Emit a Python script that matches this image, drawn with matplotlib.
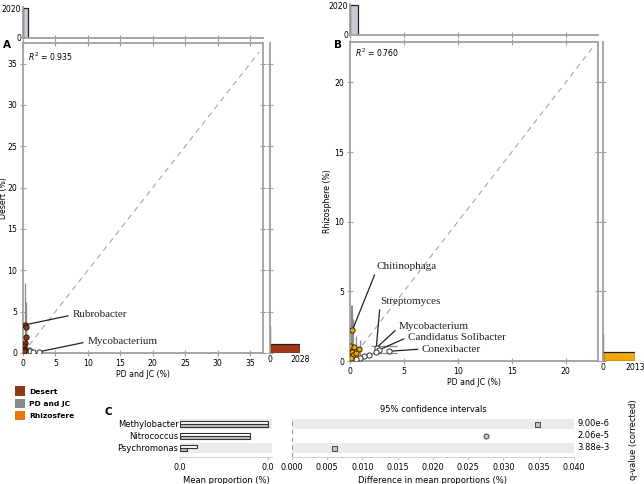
import numpy as np
import matplotlib
matplotlib.use('Agg')
import matplotlib.pyplot as plt
from matplotlib.patches import Patch

# ---------------- data ----------------
# Panel A : Desert (%) vs PD and JC (%)
a_enr_x = [0.30, 0.45, 0.40, 0.25, 0.20, 0.15, 0.30, 0.10]
a_enr_y = [3.40, 3.20, 1.90, 1.20, 0.80, 0.50, 0.35, 0.20]
a_dep_x = [0.90, 1.10, 1.60, 2.50]
a_dep_y = [0.40, 0.20, 0.15, 0.15]
a_err_x = [0.30, 0.40, 0.50]
a_err_hi = [8.5, 6.2, 4.0]
a_top_counts = [2020, 9, 3, 1]
a_right_counts = [2028, 6, 2]
a_r2 = 0.935
a_names = ['Rubrobacter', 'Mycobacterium']
a_name_pts = [(0.30, 3.40), (2.50, 0.15)]
a_name_txt = [(7.6, 4.6), (9.9, 1.35)]

# Panel B : Rhizosphere (%) vs PD and JC (%)
b_enr_x = [0.21, 0.00, 0.40, 0.86, 0.15, 0.30, 0.05, 0.60]
b_enr_y = [2.20, 1.05, 1.00, 0.84, 0.65, 0.40, 0.20, 0.55]
b_dep_x = [2.47, 2.70, 3.60, 2.40, 1.80, 1.30, 0.93, 0.60]
b_dep_y = [0.96, 0.80, 0.70, 0.65, 0.46, 0.34, 0.25, 0.15]
b_err_x = [0.05, 0.20, 0.30, 0.60, 0.90]
b_err_hi = [4.0, 4.0, 3.0, 1.8, 1.5]
b_herr_y = [1.05, 0.55]
b_herr_lo = [1.9, 1.9]
b_herr_hi = [4.4, 4.4]
b_top_counts = [2020, 8, 3, 1]
b_right_counts = [2013, 5, 2]
b_r2 = 0.760
b_names = ['Chitinophaga', 'Streptomyces', 'Mycobacterium',
           'Candidatus Solibacter', 'Conexibacter']
b_name_pts = [(0.21, 2.20), (2.40, 0.65), (2.47, 0.96), (2.70, 0.80), (3.60, 0.70)]
b_name_txt = [(2.5, 6.8), (2.78, 4.3), (4.54, 2.5), (5.37, 1.72), (6.67, 0.86)]

# Panel C : extended error bar plot
c_names = ['Methylobacter', 'Nitrococcus', 'Psychromonas']
c_mean_g1 = [0.0450, 0.0355, 0.0085]
c_mean_g2 = [0.0450, 0.0355, 0.0035]
c_diff = [0.0348, 0.0275, 0.0060]
c_markers = ['s', 'o', 's']
c_qvals = ['9.00e-6', '2.06e-5', '3.88e-3']

legend_names = ['Desert', 'PD and JC', 'Rhizosfere']
legend_cols = ['#8b3a12', '#8a8a8a', '#e8760e']

spine_col = '#a0a0a0'
fs = 5.6


def style_main(ax, ticks, lim):
    for s in ax.spines.values():
        s.set_color(spine_col)
        s.set_linewidth(1.3)
    ax.set_xlim(0, lim[0])
    ax.set_ylim(0, lim[1])
    ax.set_xticks(ticks[0])
    ax.set_yticks(ticks[1])
    ax.tick_params(direction='inout', length=5, color=spine_col, top=True, right=True,
                   labelsize=fs, pad=1.5, width=0.8)


def top_hist(ax, counts, width, xlim, xticks):
    edges = np.arange(len(counts)) * width
    ax.bar(edges, counts, width=width, align='edge', color='#cacad6', edgecolor='#222222', lw=0.9)
    ax.set_xlim(0, xlim)
    ax.set_ylim(0, counts[0] * 1.04)
    ax.set_yticks([0, counts[0]])
    ax.set_xticks(xticks)
    ax.set_xticklabels([])
    for s in ['top', 'right']:
        ax.spines[s].set_visible(False)
    for s in ['left', 'bottom']:
        ax.spines[s].set_color(spine_col)
        ax.spines[s].set_linewidth(1.3)
    ax.tick_params(axis='x', direction='inout', length=5, color=spine_col, width=0.8)
    ax.tick_params(axis='y', length=0, labelsize=fs, pad=1.5)


def right_hist(ax, counts, width, ylim, yticks, col):
    edges = np.arange(len(counts)) * width
    ax.barh(edges, counts, height=width, align='edge', color=col, edgecolor='#222222', lw=0.9)
    ax.set_ylim(0, ylim)
    ax.set_xlim(0, counts[0])
    ax.set_xticks([0, counts[0]])
    ax.set_yticks(yticks)
    ax.set_yticklabels([])
    for s in ['top', 'right', 'bottom']:
        ax.spines[s].set_visible(False)
    ax.spines['left'].set_color(spine_col)
    ax.spines['left'].set_linewidth(1.3)
    ax.tick_params(axis='y', direction='inout', length=5, color=spine_col, width=0.8)
    ax.tick_params(axis='x', length=0, labelsize=fs, pad=1.5)


def scatter_panel(ax, enr_x, enr_y, dep_x, dep_y, col, edge):
    ax.scatter(dep_x, dep_y, s=14, facecolor='white', edgecolor='#333333', lw=0.7, zorder=4)
    ax.scatter(enr_x, enr_y, s=14, facecolor=col, edgecolor=edge, lw=0.7, zorder=5)


def label_names(ax, names, pts, txt, relpos):
    for n, p, t, r in zip(names, pts, txt, relpos):
        ax.annotate(n, xy=p, xytext=t, ha='left', va='center', fontsize=8,
                    family='Liberation Serif', color='#222222',
                    arrowprops=dict(arrowstyle='-', color='#222222', lw=0.9,
                                    relpos=r, shrinkA=1, shrinkB=2))


fig = plt.figure(figsize=(6.44, 4.84), dpi=100)

# ---------------- Panel A ----------------
axA = fig.add_axes([0.0357, 0.2707, 0.3727, 0.6405])
axA_t = fig.add_axes([0.0357, 0.9215, 0.3727, 0.0640])
axA_r = fig.add_axes([0.4193, 0.2707, 0.0466, 0.6405])

axA.plot([0, 36.4], [0, 36.4], ls=(0, (5, 4)), color='#a5a5a5', lw=0.8, zorder=1)
axA.vlines(a_err_x, 0, a_err_hi, color='#8a8a8a', lw=0.9, zorder=2)
scatter_panel(axA, a_enr_x, a_enr_y, a_dep_x, a_dep_y, '#8b3a1a', '#2a140a')
label_names(axA, a_names, a_name_pts, a_name_txt, [(0, 0.5), (0, 0.5)])
style_main(axA, (np.arange(0, 36, 5), np.arange(0, 36, 5)), (37.0, 37.5))
axA.set_xlabel('PD and JC (%)', fontsize=fs, labelpad=2)
axA.set_ylabel('Desert (%)', fontsize=fs, labelpad=0)
axA.text(0.02, 0.975, r'$R^2$ = %.3f' % a_r2, transform=axA.transAxes, fontsize=fs, va='top')
fig.text(0.004, 0.900, 'A', fontsize=7.5, fontweight='bold')

top_hist(axA_t, a_top_counts, 0.8, 37.0, np.arange(0, 36, 5))
right_hist(axA_r, a_right_counts, 1.1, 37.5, np.arange(0, 36, 5), '#a0391a')

# ---------------- Panel B ----------------
axB = fig.add_axes([0.5435, 0.2541, 0.3851, 0.6591])
axB_t = fig.add_axes([0.5435, 0.9277, 0.3851, 0.0640])
axB_r = fig.add_axes([0.9363, 0.2541, 0.0497, 0.6591])

axB.plot([0, 22.6], [0, 22.6], ls=(0, (5, 4)), color='#a5a5a5', lw=0.8, zorder=1)
axB.vlines(b_err_x, 0, b_err_hi, color='#8a8a8a', lw=0.9, zorder=2)
axB.hlines(b_herr_y, b_herr_lo, b_herr_hi, color='#8a8a8a', lw=0.9, zorder=2)
scatter_panel(axB, b_enr_x, b_enr_y, b_dep_x, b_dep_y, '#f0a800', '#3a2800')
label_names(axB, b_names, b_name_pts, b_name_txt,
            [(0, 0.2), (0, 0.0), (0, 0.4), (0, 0.5), (0, 0.5)])
style_main(axB, (np.arange(0, 21, 5), np.arange(0, 21, 5)), (23.0, 22.9))
axB.set_xlabel('PD and JC (%)', fontsize=fs, labelpad=2)
axB.set_ylabel('Rhizosphere (%)', fontsize=fs, labelpad=2)
axB.text(0.02, 0.985, r'$R^2$ = %.3f' % b_r2, transform=axB.transAxes, fontsize=fs, va='top')
fig.text(0.519, 0.900, 'B', fontsize=7.5, fontweight='bold')

top_hist(axB_t, b_top_counts, 0.7, 23.0, np.arange(0, 21, 5))
right_hist(axB_r, b_right_counts, 0.65, 22.9, np.arange(0, 21, 5), '#f2a90f')

# ---------------- Legend ----------------
handles = [Patch(facecolor=c, edgecolor='none') for c in legend_cols]
leg = fig.legend(handles, legend_names, loc='upper left', bbox_to_anchor=(0.018, 0.208),
                 frameon=False, handlelength=1.4, handleheight=1.6, handletextpad=0.5,
                 labelspacing=0.35, borderaxespad=0,
                 prop={'size': 5.4, 'weight': 'bold'})

# ---------------- Panel C ----------------
rows = np.arange(len(c_names))
axC1 = fig.add_axes([0.2795, 0.0558, 0.1429, 0.0806])
axC2 = fig.add_axes([0.4534, 0.0558, 0.4379, 0.0806])

for ax in (axC1, axC2):
    for r in rows[::2]:
        ax.axhspan(r - 0.42, r + 0.42, color='#ebebeb', lw=0, zorder=0)
    ax.set_ylim(2.75, -0.5)
    for s in ['top', 'right', 'left']:
        ax.spines[s].set_visible(False)
    ax.spines['bottom'].set_color('#c8c8c8')
    ax.spines['bottom'].set_linewidth(0.6)
    ax.tick_params(axis='x', labelsize=5.8, length=2, color='#c8c8c8', pad=2)
    ax.tick_params(axis='y', length=0)

axC1.barh(rows - 0.13, c_mean_g1, height=0.26, color='white', edgecolor='#333333', lw=0.8, zorder=3)
axC1.barh(rows + 0.13, c_mean_g2, height=0.26, color='#bdbdbd', edgecolor='#333333', lw=0.8, zorder=3)
axC1.set_xlim(0, 0.047)
axC1.set_xticks([0, 0.045])
axC1.set_xticklabels(['0.0', '0.0'])
axC1.set_yticks(rows)
axC1.set_yticklabels(c_names, fontsize=6)
axC1.tick_params(axis='y', pad=1)
axC1.set_xlabel('Mean proportion (%)', fontsize=6, labelpad=3)

axC2.axvline(0, color='#9a9a9a', ls=(0, (4, 3)), lw=0.8, zorder=1)
for r, d, m in zip(rows, c_diff, c_markers):
    axC2.plot(d, r, marker=m, ms=3.6, mfc='#c4c4c4', mec='#444444', mew=0.7, ls='none', zorder=4)
axC2.set_xlim(0, 0.040)
axC2.set_xticks(np.arange(0, 0.0401, 0.005))
axC2.xaxis.set_major_formatter(matplotlib.ticker.FormatStrFormatter('%.3f'))
axC2.set_yticks([])
axC2.set_xlabel('Difference in mean proportions (%)', fontsize=6, labelpad=3)
axC2.set_title('95% confidence intervals', fontsize=6, pad=4)
for r, q in zip(rows, c_qvals):
    axC2.text(1.012, r, q, transform=axC2.get_yaxis_transform(), va='center', fontsize=6)
fig.text(0.984, 0.092, 'q-value (corrected)', rotation=90, fontsize=6, va='center', ha='center')
fig.text(0.162, 0.143, 'C', fontsize=7.5, fontweight='bold')

fig.savefig('out.png', dpi=100)
